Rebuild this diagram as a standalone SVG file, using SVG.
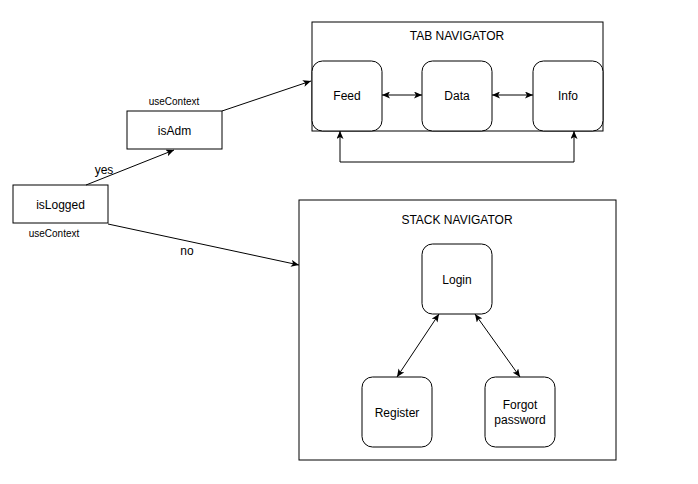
<svg xmlns="http://www.w3.org/2000/svg" width="698" height="484" viewBox="0 0 698 484">
<defs>
<style>
.box{fill:#fff;stroke:#000;stroke-width:1}
.rbox{fill:#fff;stroke:#000;stroke-width:1}
.t{font-family:"Liberation Sans",Arial,sans-serif;font-size:12px;fill:#000;text-anchor:middle}
.s{font-family:"Liberation Sans",Arial,sans-serif;font-size:10px;fill:#000;text-anchor:middle}
.c{fill:none;stroke:#000;stroke-width:1}
</style>
<marker id="ah" viewBox="0 0 8 7" refX="8" refY="3.5" markerWidth="8" markerHeight="7" markerUnits="userSpaceOnUse" orient="auto-start-reverse">
<path d="M0,0 L8,3.5 L0,7 L2,3.5 z" fill="#000"/>
</marker>
</defs>
<rect width="698" height="484" fill="#fff"/>

<g id="tab-navigator">
<rect class="box" x="312" y="22" width="291" height="109"/>
<text class="t" x="457" y="40">TAB NAVIGATOR</text>
</g>
<g id="stack-navigator">
<rect class="box" x="299" y="200" width="317" height="260"/>
<text class="t" x="457" y="224">STACK NAVIGATOR</text>
</g>

<g id="isLogged">
<rect class="box" x="13" y="185" width="95" height="38"/>
<text class="t" x="60.5" y="208.5">isLogged</text>
<text class="s" x="54" y="237">useContext</text>
</g>
<g id="isAdm">
<rect class="box" x="127" y="111" width="95" height="38"/>
<text class="t" x="174.5" y="134.5">isAdm</text>
<text class="s" x="174" y="105">useContext</text>
</g>

<g id="feed">
<rect class="rbox" x="312" y="61" width="70" height="70" rx="10.5"/>
<text class="t" x="347" y="100">Feed</text>
</g>
<g id="data">
<rect class="rbox" x="422" y="61" width="70" height="70" rx="10.5"/>
<text class="t" x="457" y="100">Data</text>
</g>
<g id="info">
<rect class="rbox" x="533" y="61" width="70" height="70" rx="10.5"/>
<text class="t" x="568" y="100">Info</text>
</g>

<g id="login">
<rect class="rbox" x="422" y="244" width="70" height="70" rx="10.5"/>
<text class="t" x="457" y="284">Login</text>
</g>
<g id="register">
<rect class="rbox" x="362" y="377" width="70" height="70" rx="10.5"/>
<text class="t" x="397" y="417">Register</text>
</g>
<g id="forgot">
<rect class="rbox" x="485" y="377" width="70" height="70" rx="10.5"/>
<text class="t" x="520" y="409">Forgot</text>
<text class="t" x="520" y="424">password</text>
</g>

<g id="connectors">
<line class="c" x1="86" y1="185" x2="174" y2="150" marker-end="url(#ah)"/>
<text class="t" x="104" y="174">yes</text>
<line class="c" x1="222" y1="111" x2="311" y2="81" marker-end="url(#ah)"/>
<line class="c" x1="108" y1="224" x2="299" y2="265" marker-end="url(#ah)"/>
<text class="t" x="187" y="255">no</text>
<line class="c" x1="382" y1="95" x2="422" y2="95" marker-start="url(#ah)" marker-end="url(#ah)"/>
<line class="c" x1="492" y1="95" x2="533" y2="95" marker-start="url(#ah)" marker-end="url(#ah)"/>
<polyline class="c" points="340,131 340,162 574,162 574,131" marker-start="url(#ah)" marker-end="url(#ah)"/>
<line class="c" x1="439" y1="314" x2="397" y2="377" marker-start="url(#ah)" marker-end="url(#ah)"/>
<line class="c" x1="475" y1="314" x2="520" y2="377" marker-start="url(#ah)" marker-end="url(#ah)"/>
</g>
</svg>
